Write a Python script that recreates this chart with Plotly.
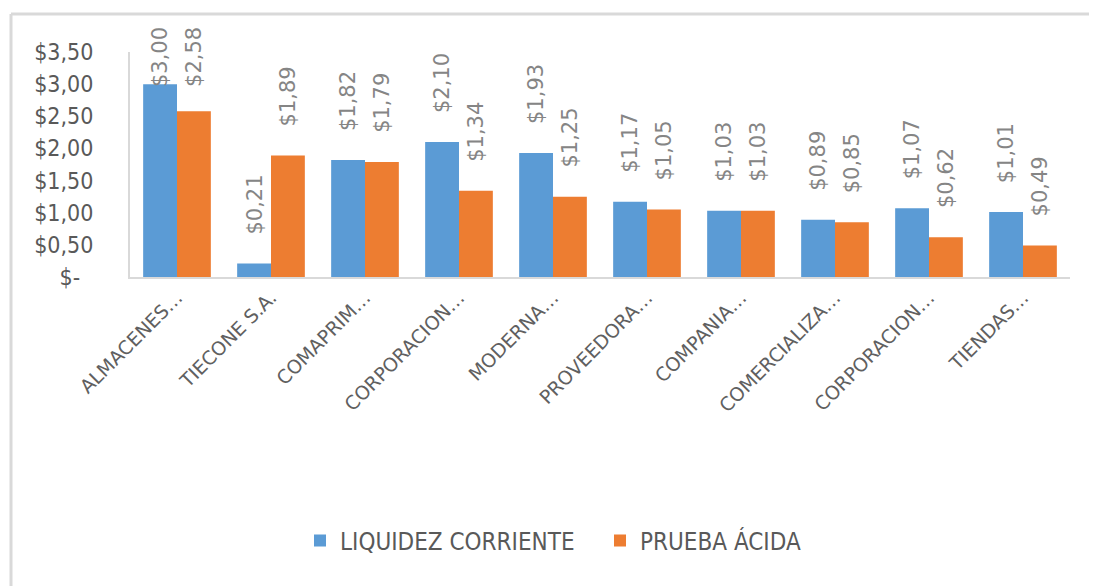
import plotly.graph_objects as go

categories = ["ALMACENES…", "TIECONE S.A.", "COMAPRIM…", "CORPORACION…", "MODERNA…",
              "PROVEEDORA…", "COMPANIA…", "COMERCIALIZA…", "CORPORACION…", "TIENDAS…"]
liquidez_corriente = [3.00, 0.21, 1.82, 2.10, 1.93, 1.17, 1.03, 0.89, 1.07, 1.01]
prueba_acida = [2.58, 1.89, 1.79, 1.34, 1.25, 1.05, 1.03, 0.85, 0.62, 0.49]
series_names = ["LIQUIDEZ CORRIENTE", "PRUEBA ÁCIDA"]
y_tick_vals = [0, 0.5, 1.0, 1.5, 2.0, 2.5, 3.0, 3.5]
y_tick_text = ["$-\u00a0\u00a0", "$0,50", "$1,00", "$1,50", "$2,00", "$2,50", "$3,00", "$3,50"]

W, H = 1097, 586
OFF = 8  # page offset of the figure in the browser
L, R, T, B = 130 - OFF, 27 + OFF, 52 - OFF, 309 + OFF
plot_w = W - L - R
plot_h = H - T - B
y_max = 3.5
px_per_unit = plot_h / y_max

BLUE = "#5B9BD5"
ORANGE = "#ED7D31"
NARROW = "DejaVu Sans Condensed, Roboto Condensed, Liberation Sans"
idx = list(range(len(categories)))

fig = go.Figure()
fig.add_trace(go.Bar(x=idx, y=liquidez_corriente, name=series_names[0],
                     marker=dict(color=BLUE, line=dict(width=0))))
fig.add_trace(go.Bar(x=idx, y=prueba_acida, name=series_names[1],
                     marker=dict(color=ORANGE, line=dict(width=0))))

bargap = 0.28
half = (1 - bargap) / 4
label_len = 66
gap = 27
top_limit = 23 - OFF
annotations = []
for vals, off in ((liquidez_corriente, -half), (prueba_acida, half)):
    for i, v in zip(idx, vals):
        bar_top_px = T + plot_h - v * px_per_unit
        bottom_px = max(bar_top_px - gap, top_limit + label_len)
        annotations.append(dict(
            x=i + off, y=v, xref="x", yref="y",
            text="$" + f"{v:.2f}".replace(".", ","),
            showarrow=False, textangle=-90,
            xanchor="center", yanchor="bottom",
            yshift=bar_top_px - bottom_px,
            font=dict(family="DejaVu Sans", size=21, color="#858585"),
        ))

bx = (11 - OFF - L) / plot_w
by = (H - B - (14 - OFF)) / plot_h

fig.update_layout(
    width=W, height=H,
    margin=dict(l=L, r=R, t=T, b=B),
    paper_bgcolor="white", plot_bgcolor="white",
    barmode="group", bargap=bargap, bargroupgap=0,
    showlegend=True,
    legend=dict(orientation="h", x=(300 - OFF - L) / plot_w, xanchor="left",
                y=(H - B - (541 - OFF)) / plot_h, yanchor="middle",
                font=dict(family=NARROW, size=24, color="#595959"),
                itemwidth=30, entrywidth=255, entrywidthmode="pixels",
                traceorder="normal"),
    annotations=annotations,
    xaxis=dict(
        range=[-0.5, len(categories) - 0.5],
        tickmode="array", tickvals=idx, ticktext=categories,
        tickangle=-45, showgrid=False, zeroline=False,
        showline=True, linecolor="#d9d9d9", linewidth=2,
        ticks="", tickfont=dict(family="DejaVu Sans", size=19, color="#606060"),
    ),
    yaxis=dict(
        range=[0, y_max], tickmode="array", tickvals=y_tick_vals, ticktext=y_tick_text,
        showgrid=False, zeroline=False,
        showline=True, linecolor="#d9d9d9", linewidth=2,
        ticks="outside", ticklen=30, tickcolor="rgba(0,0,0,0)",
        tickfont=dict(family=NARROW, size=23, color="#595959"),
    ),
    shapes=[
        dict(type="line", xref="paper", yref="paper",
             x0=bx, x1=1.2, y0=by, y1=by,
             line=dict(color="#d9d9d9", width=3)),
        dict(type="line", xref="paper", yref="paper",
             x0=bx, x1=bx, y0=by, y1=-2,
             line=dict(color="#d9d9d9", width=3)),
    ],
)

fig.write_html("out.html")
